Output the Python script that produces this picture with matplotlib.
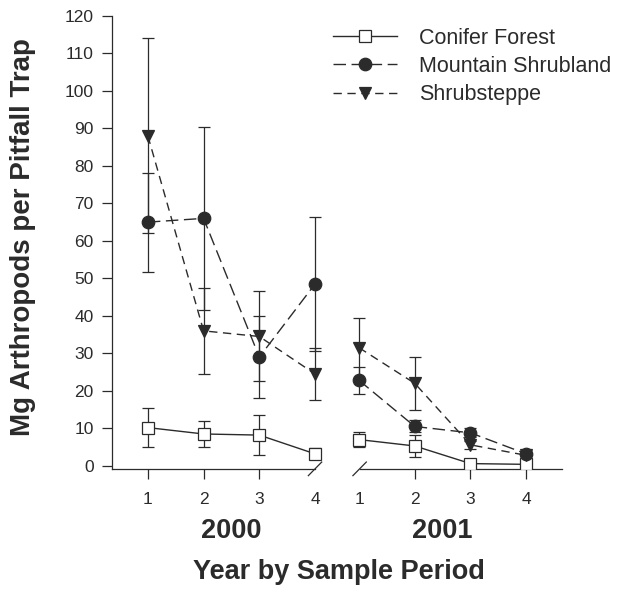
import matplotlib.pyplot as plt
from matplotlib.lines import Line2D

plt.rcParams['font.family'] = ['Liberation Sans', 'DejaVu Sans']

# sample periods, two years side by side on one axis
periods = [1, 2, 3, 4]
years = ['2000', '2001']
gap = 0.79  # extra space between the two years

conifer_mean = [[10.2, 8.5, 8.2, 3.2], [7.0, 5.3, 0.6, 0.4]]
conifer_err = [[5.3, 3.5, 5.3, 1.5], [2.0, 3.0, 0.6, 0.5]]
mountain_mean = [[65.0, 66.0, 29.0, 48.5], [22.8, 10.5, 8.8, 3.2]]
mountain_err = [[13.2, 24.5, 11.0, 18.0], [3.6, 1.6, 1.2, 0.6]]
shrub_mean = [[88.0, 36.0, 34.5, 24.5], [31.5, 22.0, 5.6, 2.8]]
shrub_err = [[26.0, 11.5, 12.0, 7.0], [8.0, 7.0, 1.0, 0.6]]

ink = '#2b2b2b'
fig = plt.figure(figsize=(6.25, 5.89), dpi=100)
ax = fig.add_axes([0.179, 0.204, 0.72, 0.769])

series = [
    ('Conifer Forest', conifer_mean, conifer_err, 's', 'white', '-', 8),
    ('Mountain Shrubland', mountain_mean, mountain_err, 'o', ink, (0, (9, 4)), 9),
    ('Shrubsteppe', shrub_mean, shrub_err, 'v', ink, (0, (6, 4)), 9),
]

xticks = []
for k, yr in enumerate(years):
    xs = [p + k * (3 + gap) for p in periods]
    xticks += xs
    for name, mean, err, mk, fc, ls, ms in series:
        ax.errorbar(xs, mean[k], yerr=err[k], fmt='none', ecolor=ink,
                    elinewidth=0.9, capsize=4.3, capthick=0.9, zorder=2)
        ax.plot(xs, mean[k], linestyle=ls, color=ink, lw=1.0, zorder=3)
        ax.plot(xs, mean[k], linestyle='none', marker=mk, ms=ms, mfc=fc,
                mec=ink, mew=0.9, zorder=4)
    ax.text(sum(xs) / 4, -0.137, yr, transform=ax.get_xaxis_transform(),
            ha='center', va='center', fontsize=19.5, fontweight='bold',
            color=ink)

ax.set_xlim(0.354, 8.43)
ax.set_ylim(-0.8, 120)
ax.set_yticks(range(0, 121, 10))
ax.set_xticks(xticks)
ax.set_xticklabels([str(p) for p in periods] * 2)
ax.tick_params(direction='out', length=7, width=0.9, color=ink,
               labelsize=12.5, labelcolor=ink)
ax.tick_params(axis='x', pad=10)
ax.tick_params(axis='y', pad=6)
# the axis break marks replace the ticks next to the gap
xt = ax.xaxis.get_major_ticks()
xt[3].tick1line.set_visible(False)
xt[4].tick1line.set_visible(False)

for s in ['top', 'right', 'bottom']:
    ax.spines[s].set_visible(False)
ax.spines['left'].set_color(ink)
ax.spines['left'].set_linewidth(0.9)

# broken x axis
tr = ax.get_xaxis_transform()
ax.plot([0.354, 4.0], [0, 0], color=ink, lw=0.9, transform=tr, clip_on=False)
ax.plot([4.8, 8.43], [0, 0], color=ink, lw=0.9, transform=tr, clip_on=False)
for bx in [4.0, 4.8]:
    ax.plot([bx - 0.12, bx + 0.12], [-0.015, 0.015], color=ink, lw=0.9,
            transform=tr, clip_on=False)

ax.set_ylabel('Mg Arthropods per Pitfall Trap', fontsize=20,
              fontweight='bold', color=ink, va='center', ha='center')
ax.yaxis.set_label_coords(-0.198, 0.512)
ax.set_xlabel('Year by Sample Period', fontsize=19.5, fontweight='bold',
              color=ink, va='center', ha='center')
ax.xaxis.set_label_coords(0.505, -0.227)

handles = [Line2D([], [], color=ink, lw=1.0, linestyle=ls, marker=mk, ms=ms,
                  mfc=fc, mec=ink, mew=0.9)
           for name, mean, err, mk, fc, ls, ms in series]
ax.legend(handles, [s[0] for s in series], loc='upper left',
          bbox_to_anchor=(0.491, 0.974), frameon=False, fontsize=15.5,
          handlelength=3.0, labelspacing=0.34, handletextpad=1.0,
          borderpad=0, borderaxespad=0, labelcolor=ink)

fig.savefig('out.png', dpi=100)
